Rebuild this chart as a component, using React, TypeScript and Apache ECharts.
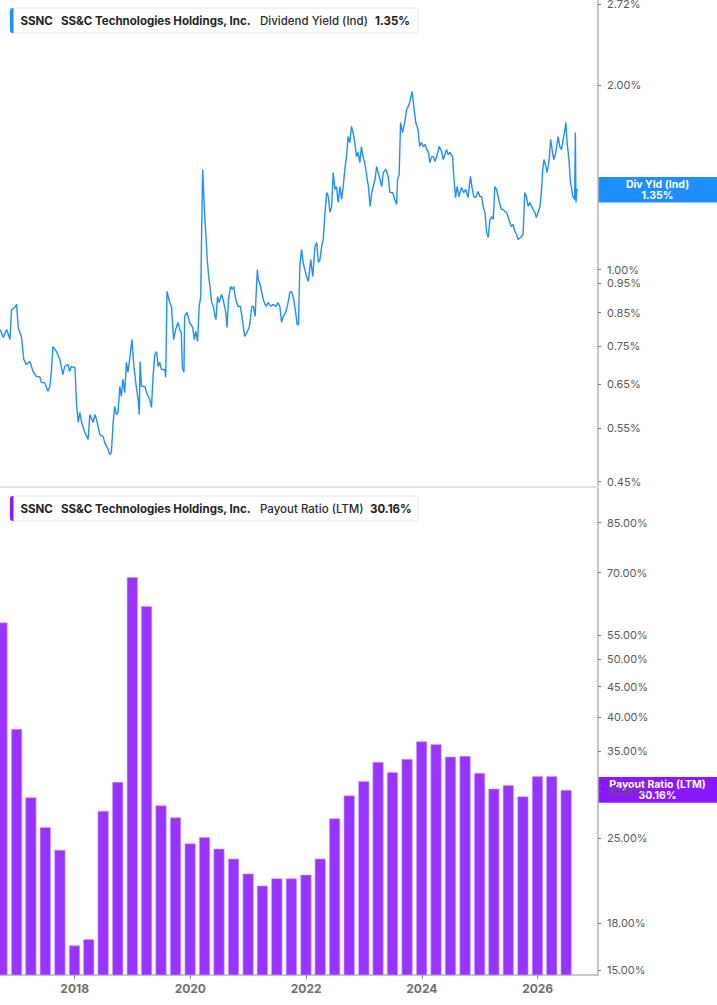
import React, { useEffect, useRef } from "react";
import * as echarts from "echarts";

// ---- Dividend yield (Ind), % ----
const yieldDates = [
  "2016-09-18","2016-10-08","2016-10-29","2016-11-19","2016-11-29","2016-12-20","2016-12-31",
  "2017-01-10","2017-01-31","2017-02-14","2017-03-03","2017-03-24","2017-04-14","2017-05-05","2017-05-26",
  "2017-06-05","2017-06-26","2017-07-17","2017-07-28","2017-08-07","2017-08-17","2017-09-08","2017-09-29",
  "2017-10-19","2017-10-30","2017-11-20","2017-11-30","2017-12-11",
  "2018-01-03","2018-01-14","2018-01-24","2018-02-03","2018-02-14","2018-03-07","2018-03-27","2018-04-07",
  "2018-04-28","2018-05-09","2018-05-19","2018-06-09","2018-06-30","2018-07-10","2018-07-31","2018-08-11",
  "2018-08-21","2018-09-01","2018-09-11","2018-09-22","2018-10-02","2018-10-13","2018-10-23","2018-11-02",
  "2018-11-13","2018-11-24","2018-12-04","2018-12-14","2018-12-29",
  "2019-01-10","2019-01-27","2019-02-06","2019-02-13","2019-02-18","2019-02-27","2019-03-20","2019-03-31",
  "2019-04-20","2019-05-01","2019-05-11","2019-05-22","2019-06-02","2019-06-12","2019-06-22","2019-07-03",
  "2019-07-24","2019-07-30","2019-08-07","2019-08-24","2019-09-04","2019-09-18","2019-10-01","2019-10-15",
  "2019-10-26","2019-11-05","2019-11-12","2019-11-22","2019-11-26","2019-12-11","2019-12-28",
  "2020-01-16","2020-01-26","2020-02-05","2020-02-16","2020-02-26","2020-03-07","2020-03-13","2020-03-19",
  "2020-03-27","2020-04-02","2020-04-09","2020-04-17","2020-04-26","2020-05-04","2020-05-15","2020-05-25",
  "2020-06-05","2020-06-11","2020-06-21","2020-07-01","2020-07-16","2020-07-26","2020-08-12","2020-08-20",
  "2020-08-29","2020-09-11","2020-09-23","2020-10-01","2020-10-14","2020-10-28","2020-11-12","2020-11-25",
  "2020-12-09","2020-12-24",
  "2021-01-08","2021-01-23","2021-02-02","2021-02-13","2021-02-27","2021-03-05","2021-03-20","2021-04-05",
  "2021-04-22","2021-05-07","2021-05-22","2021-06-07","2021-06-24","2021-07-08","2021-07-19","2021-07-30",
  "2021-08-09","2021-08-26","2021-09-09","2021-09-20","2021-10-01","2021-10-15","2021-10-27","2021-11-05",
  "2021-11-14","2021-11-22","2021-12-03","2021-12-13",
  "2022-01-03","2022-01-15","2022-01-30","2022-02-12","2022-02-26","2022-03-09","2022-03-19","2022-03-29",
  "2022-04-09","2022-04-19","2022-04-30","2022-05-11","2022-05-21","2022-05-31","2022-06-11","2022-06-21",
  "2022-07-02","2022-07-12","2022-07-22","2022-08-02","2022-08-13","2022-08-23","2022-09-02","2022-09-13",
  "2022-09-23","2022-10-04","2022-10-14","2022-10-24","2022-11-04","2022-11-15","2022-11-25","2022-12-06",
  "2022-12-16","2022-12-26",
  "2023-01-06","2023-01-19","2023-01-29","2023-02-09","2023-02-19","2023-03-01","2023-03-12","2023-03-22",
  "2023-04-01","2023-04-12","2023-04-23","2023-05-03","2023-05-20","2023-06-03","2023-06-14","2023-07-01",
  "2023-07-15","2023-07-26","2023-08-01","2023-08-11","2023-08-20","2023-09-02","2023-09-16","2023-09-27",
  "2023-10-07","2023-10-17","2023-11-01","2023-11-12","2023-11-24","2023-12-08","2023-12-19","2023-12-30",
  "2024-01-10","2024-01-21","2024-02-01","2024-02-11","2024-02-21","2024-03-03","2024-03-13","2024-03-24",
  "2024-04-04","2024-04-20","2024-05-05","2024-05-15","2024-05-26","2024-06-05","2024-06-15","2024-06-26",
  "2024-07-13","2024-07-21","2024-08-01","2024-08-11","2024-08-23","2024-09-07","2024-09-22","2024-10-04",
  "2024-10-19","2024-11-03","2024-11-13","2024-11-24","2024-12-06","2024-12-21",
  "2025-01-01","2025-01-13","2025-01-23","2025-02-03","2025-02-13","2025-02-23","2025-03-06","2025-03-17",
  "2025-03-27","2025-04-06","2025-04-17","2025-04-27","2025-05-08","2025-05-18","2025-05-28","2025-06-08",
  "2025-06-19","2025-07-10","2025-07-20","2025-07-30","2025-08-10","2025-08-21","2025-08-31","2025-09-15",
  "2025-10-01","2025-10-12","2025-10-22","2025-11-02","2025-11-12","2025-12-03","2025-12-14","2025-12-24",
  "2026-01-04","2026-01-16","2026-01-26","2026-02-02","2026-02-10","2026-02-22","2026-03-02","2026-03-15",
  "2026-03-24","2026-04-05","2026-04-13","2026-04-26","2026-05-10","2026-05-21","2026-06-01","2026-06-11",
  "2026-06-22","2026-06-28","2026-07-06","2026-07-18","2026-07-27","2026-08-04","2026-08-12","2026-08-23",
  "2026-08-27","2026-08-31","2026-09-06","2026-09-12",
];
const yieldValues = [
  0.798,0.774,0.798,0.768,0.860,0.867,0.877,
  0.804,0.774,0.713,0.699,0.707,0.681,0.668,0.668,
  0.653,0.653,0.632,0.644,0.679,0.748,0.734,0.713,
  0.673,0.694,0.699,0.681,0.694,
  0.691,0.597,0.562,0.584,0.562,0.541,0.527,0.579,
  0.562,0.579,0.569,0.537,0.533,0.521,0.508,0.498,
  0.502,0.562,0.597,0.579,0.584,0.644,0.620,0.661,
  0.629,0.705,0.679,0.713,0.768,
  0.694,0.637,0.613,0.579,0.707,0.644,0.644,0.629,
  0.613,0.595,0.668,0.726,0.734,0.694,0.705,0.686,
  0.686,0.666,0.921,0.883,0.870,0.768,0.798,0.819,
  0.798,0.789,0.691,0.679,0.838,0.851,0.819,
  0.804,0.768,0.792,0.763,0.870,0.903,1.176,1.457,
  1.302,1.207,1.132,1.038,0.974,0.938,0.883,0.870,
  0.838,0.828,0.903,0.883,0.910,0.893,0.851,0.804,
  0.893,0.938,0.928,0.938,0.893,0.870,0.870,0.828,
  0.777,0.789,
  0.807,0.870,0.870,0.838,1.000,0.963,0.938,0.893,
  0.870,0.883,0.870,0.877,0.870,0.883,0.870,0.819,
  0.838,0.851,0.883,0.917,0.921,0.893,0.851,0.813,
  0.813,1.011,1.078,1.027,
  0.974,0.956,1.038,0.974,1.090,1.107,1.027,1.038,
  1.090,1.120,1.240,1.336,1.316,1.240,1.268,1.441,
  1.352,1.367,1.287,1.367,1.302,1.367,1.457,1.530,
  1.650,1.613,1.714,1.675,1.613,1.530,1.554,1.496,
  1.589,1.530,
  1.496,1.420,1.367,1.268,1.336,1.367,1.404,1.474,
  1.441,1.404,1.367,1.441,1.457,1.420,1.336,1.336,
  1.302,1.277,1.404,1.430,1.740,1.675,1.746,1.827,
  1.848,1.876,1.955,1.841,1.740,1.694,1.589,1.613,
  1.589,1.601,1.571,1.560,1.496,1.530,1.530,1.502,
  1.530,1.589,1.560,1.513,1.542,1.571,1.542,1.554,
  1.530,1.420,1.311,1.367,1.316,1.362,1.336,1.352,
  1.311,1.420,1.362,1.316,1.311,1.341,
  1.316,1.316,1.263,1.240,1.150,1.128,1.207,1.221,
  1.207,1.367,1.352,1.316,1.277,1.254,1.254,1.244,
  1.240,1.194,1.176,1.185,1.154,1.141,1.120,1.128,
  1.141,1.336,1.316,1.268,1.287,1.254,1.240,1.216,
  1.240,1.268,1.352,1.457,1.513,1.474,1.441,1.513,
  1.632,1.554,1.513,1.554,1.650,1.589,1.571,1.632,
  1.694,1.740,1.613,1.513,1.388,1.352,1.316,1.302,
  1.675,1.287,1.352,1.350,
];

// ---- Payout ratio (LTM), % — quarterly ----
const payoutDates = [
  "2016-09-30","2016-12-31","2017-03-31","2017-06-30","2017-09-30","2017-12-31",
  "2018-03-31","2018-06-30","2018-09-30","2018-12-31","2019-03-31","2019-06-30",
  "2019-09-30","2019-12-31","2020-03-31","2020-06-30","2020-09-30","2020-12-31",
  "2021-03-31","2021-06-30","2021-09-30","2021-12-31","2022-03-31","2022-06-30",
  "2022-09-30","2022-12-31","2023-03-31","2023-06-30","2023-09-30","2023-12-31",
  "2024-03-31","2024-06-30","2024-09-30","2024-12-31","2025-03-31","2025-06-30",
  "2025-09-30","2025-12-31","2026-03-31","2026-06-30",
];
const payoutValues = [
  57.7, 38.2, 29.3, 26.1, 23.9, 16.5,
  16.9, 27.8, 31.1, 68.8, 61.5, 28.4,
  27.1, 24.5, 25.1, 24.0, 23.1, 21.8,
  20.8, 21.4, 21.4, 21.7, 23.1, 27.0,
  29.5, 31.2, 33.6, 32.3, 34.0, 36.4,
  36.0, 34.3, 34.4, 32.2, 30.3, 30.7,
  29.4, 31.8, 31.8, 30.16,
];

// ---- Axis ticks ----
const yieldTicks = [0.45, 0.55, 0.65, 0.75, 0.85, 0.95, 1.0, 2.0, Math.E];
const payoutTicks = [15, 18, 25, 30, 35, 40, 45, 50, 55, 70, 85];
const yearTicks = [2018, 2020, 2022, 2024, 2026];
const xStart = "2016-09-17";
const xEnd = "2027-01-17";

const lastYield = 1.35;
const lastPayout = 30.16;
const ticker = "SSNC";
const company = "SS&C Technologies Holdings, Inc.";

const W = 717;
const H = 1005;
const AXIS_X = 598;
const FONT = "Inter, 'Noto Sans', sans-serif";
const BLUE = "#1f8fff";
const PURPLE = "#8b17ff";

function ts(s: string): number {
  const [y, m, d] = s.split("-").map(Number);
  return new Date(y, m - 1, d).getTime();
}

function legend(y: number, accent: string, metric: string, value: string, metricX: number, valueX: number) {
  const cy = y + 12.5;
  return {
    type: "group",
    z: 100,
    children: [
      { type: "rect", shape: { x: 10, y, width: 408, height: 25, r: 3 }, style: { fill: "#fff", stroke: "#e6e6e6", lineWidth: 1 } },
      { type: "rect", shape: { x: 10, y, width: 3.5, height: 25, r: [3, 0, 0, 3] }, style: { fill: accent } },
      { type: "text", style: { x: 20.5, y: cy, text: ticker, fill: "#222", font: `bold 11.5px ${FONT}`, verticalAlign: "middle" } },
      { type: "text", style: { x: 61, y: cy, text: company, fill: "#222", font: `bold 11.5px ${FONT}`, verticalAlign: "middle" } },
      { type: "text", style: { x: metricX, y: cy, text: metric, fill: "#2a2a2a", font: `500 11.5px ${FONT}`, verticalAlign: "middle" } },
      { type: "text", style: { x: valueX, y: cy, text: value, fill: "#222", font: `bold 11.5px ${FONT}`, verticalAlign: "middle" } },
    ],
  };
}

function valueBox(yc: number, color: string, line1: string, line2: string) {
  return {
    type: "group",
    z: 100,
    children: [
      { type: "rect", shape: { x: AXIS_X, y: yc - 12.8, width: W - AXIS_X, height: 25.6 }, style: { fill: color } },
      {
        type: "text",
        style: { x: 657.5, y: yc - 5.3, text: line1, fill: "#fff", font: `bold 10.5px ${FONT}`, align: "center", verticalAlign: "middle" },
      },
      {
        type: "text",
        style: { x: 657.5, y: yc + 5.7, text: line2, fill: "#fff", font: `bold 10.5px ${FONT}`, align: "center", verticalAlign: "middle" },
      },
    ],
  };
}

export default function App() {
  const ref = useRef<HTMLDivElement>(null);

  useEffect(() => {
    document.body.style.margin = "0";
    if (!ref.current) return;
    const chart = echarts.init(ref.current, undefined, { renderer: "svg" });

    const xMin = ts(xStart);
    const xMax = ts(xEnd);
    const yearTs = yearTicks.map((y) => new Date(y, 0, 1).getTime());

    // top pane: natural-log scale
    const y0Max = 1 + 4 / 265.5;
    const y0Min = 1 - 483 / 265.5;
    // bottom pane: natural-log scale
    const y1Min = Math.log(15) - 5 / 257.9;
    const y1Max = y1Min + 488 / 257.9;

    const pctFmt = (v: number) => Math.exp(v).toFixed(2) + "%";
    const yieldLog = yieldTicks.map((v) => Math.log(v));
    const payoutLog = payoutTicks.map((v) => Math.log(v));

    const yAxisCommon = {
      type: "value",
      position: "right",
      axisLine: { show: true, onZero: false, lineStyle: { color: "#b5b5b5", width: 1.5 } },
      splitLine: { show: false },
    };

    chart.setOption({
      animation: false,
      grid: [
        { left: 0, right: W - AXIS_X, top: 0, height: 487, outerBoundsMode: "none" },
        { left: 0, right: W - AXIS_X, top: 487, height: 488, outerBoundsMode: "none" },
      ],
      xAxis: [
        {
          type: "value", gridIndex: 0, min: xMin, max: xMax,
          axisLine: { show: true, onZero: false, lineStyle: { color: "#e3e3e3", width: 2 } },
          axisTick: { show: false }, axisLabel: { show: false }, splitLine: { show: false },
        },
        {
          type: "value", gridIndex: 1, min: xMin, max: xMax,
          axisLine: { show: true, onZero: false, lineStyle: { color: "#b5b5b5", width: 1.5 } },
          axisTick: { show: true, customValues: yearTs, length: 4, lineStyle: { color: "#8a8a8a" } },
          axisLabel: {
            customValues: yearTs,
            formatter: (v: number) => String(new Date(v).getFullYear()),
            color: "#6e6e6e", fontWeight: "bold", fontSize: 12, margin: 7, fontFamily: FONT,
          },
          splitLine: { show: false },
        },
      ],
      yAxis: [
        {
          ...yAxisCommon, gridIndex: 0, min: y0Min, max: y0Max,
          axisTick: { show: true, customValues: yieldLog, length: 3, lineStyle: { color: "#777" } },
          axisLabel: { customValues: yieldLog, formatter: pctFmt, color: "#5a5a5a", fontSize: 11, margin: 9, fontFamily: FONT },
        },
        {
          ...yAxisCommon, gridIndex: 1, min: y1Min, max: y1Max,
          axisTick: { show: true, customValues: payoutLog, length: 3, lineStyle: { color: "#777" } },
          axisLabel: { customValues: payoutLog, formatter: pctFmt, color: "#5a5a5a", fontSize: 11, margin: 9, fontFamily: FONT },
        },
      ],
      series: [
        {
          type: "line", xAxisIndex: 0, yAxisIndex: 0,
          data: yieldDates.map((d, i) => [ts(d), Math.log(yieldValues[i])]),
          showSymbol: false, symbol: "none", silent: true,
          lineStyle: { color: BLUE, width: 1.4 },
        },
        {
          type: "bar", xAxisIndex: 1, yAxisIndex: 1, clip: true,
          data: payoutDates.map((d, i) => [ts(d), Math.log(payoutValues[i])]),
          barWidth: 11, silent: true,
          itemStyle: { color: "#9933ff", borderColor: "#c9a3ff", borderWidth: 0.6 },
        },
      ],
    });

    const yYield = chart.convertToPixel({ yAxisIndex: 0 }, Math.log(lastYield)) as number;
    const yPayout = chart.convertToPixel({ yAxisIndex: 1 }, Math.log(lastPayout)) as number;

    chart.setOption({
      graphic: [
        legend(8, BLUE, "Dividend Yield (Ind)", `${lastYield.toFixed(2)}%`, 260, 375),
        legend(496, PURPLE, "Payout Ratio (LTM)", `${lastPayout.toFixed(2)}%`, 260, 370),
        valueBox(yYield, BLUE, "Div Yld (Ind)", `${lastYield.toFixed(2)}%`),
        valueBox(yPayout, PURPLE, "Payout Ratio (LTM)", `${lastPayout.toFixed(2)}%`),
      ],
    });

    return () => chart.dispose();
  }, []);

  return <div ref={ref} style={{ width: W, height: H }} />;
}
